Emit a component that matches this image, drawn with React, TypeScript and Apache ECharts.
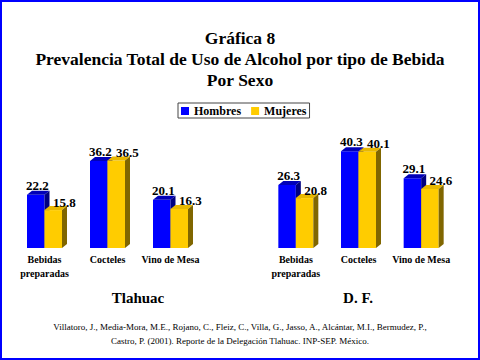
import React, { useEffect, useRef } from "react";
import * as echarts from "echarts";

const categories = ["Bebidas\npreparadas", "Cocteles", "Vino de Mesa"];
const tlahuacHombres = [22.2, 36.2, 20.1];
const tlahuacMujeres = [15.8, 36.5, 16.3];
const dfHombres = [26.3, 40.3, 29.1];
const dfMujeres = [20.8, 40.1, 24.6];
const groupNames = ["Tlahuac", "D. F."];
const seriesNames = ["Hombres", "Mujeres"];

const SERIF = '"Liberation Serif", "Times New Roman", serif';

const BAR_W = 17.5;
const DX = 5;
const DY = 4;

const palette = {
  Hombres: { front: "#0000FF", top: "#0000B8", side: "#000080" },
  Mujeres: { front: "#FFCC00", top: "#E8B800", side: "#806600" },
};

function makeRender(isLeft: boolean, colors: { front: string; top: string; side: string }) {
  return (params: any, api: any) => {
    const idx = api.value(0);
    const val = api.value(1);
    const topPt = api.coord([idx, val]);
    const basePt = api.coord([idx, 0]);
    const cx = topPt[0];
    const yTop = topPt[1];
    const yBase = basePt[1];
    const x0 = isLeft ? cx - BAR_W : cx;
    const x1 = x0 + BAR_W;
    const labelOffset = isLeft ? 1.5 : 11;
    return {
      type: "group",
      children: [
        {
          type: "rect",
          shape: { x: x0, y: yTop, width: BAR_W, height: yBase - yTop },
          style: { fill: colors.front },
        },
        {
          type: "polygon",
          shape: {
            points: [
              [x0, yTop],
              [x0 + DX, yTop - DY],
              [x1 + DX, yTop - DY],
              [x1, yTop],
            ],
          },
          style: { fill: colors.top },
        },
        {
          type: "polygon",
          shape: {
            points: [
              [x1, yTop],
              [x1 + DX, yTop - DY],
              [x1 + DX, yBase - DY],
              [x1, yBase],
            ],
          },
          style: { fill: colors.side },
        },
        {
          type: "text",
          z2: 100,
          style: {
            text: val.toFixed(1),
            x: (x0 + x1) / 2 + labelOffset,
            y: yTop - (isLeft ? 3 : 1.5),
            align: "center",
            verticalAlign: "bottom",
            fontFamily: SERIF,
            fontWeight: "bold",
            fontSize: 13,
            fill: "#000",
          },
        },
      ],
    };
  };
}

function barSeries(name: string, values: number[], gridIdx: number, isLeft: boolean) {
  const colors = (palette as any)[name];
  return {
    type: "custom",
    name,
    xAxisIndex: gridIdx,
    yAxisIndex: gridIdx,
    z: isLeft ? 2 : 3,
    itemStyle: { color: colors.front },
    renderItem: makeRender(isLeft, colors),
    data: values.map((v, i) => [i, v]),
    encode: { x: 0, y: 1 },
  };
}

export default function App() {
  const ref = useRef<HTMLDivElement>(null);
  useEffect(() => {
    document.body.style.margin = "0";
    if (!ref.current) return;
    const chart = echarts.init(ref.current, null, { renderer: "svg" });
    const xAxisBase = {
      type: "category",
      data: categories,
      axisLine: { show: false },
      axisTick: { show: false },
      splitLine: { show: false },
      axisLabel: {
        interval: 0,
        margin: 4,
        fontFamily: SERIF,
        fontWeight: "bold",
        fontSize: 10,
        lineHeight: 14,
        color: "#000",
      },
    };
    const yAxisBase = {
      type: "value",
      min: 0,
      max: 50,
      show: false,
      splitLine: { show: false },
    };
    chart.setOption({
      animation: false,
      backgroundColor: "#fff",
      title: {
        text: "Gráfica 8\nPrevalencia Total de Uso de Alcohol por tipo de Bebida\nPor Sexo",
        left: 240,
        top: 27,
        padding: 0,
        textAlign: "center",
        textStyle: {
          fontFamily: SERIF,
          fontWeight: "bold",
          fontSize: 17.5,
          lineHeight: 21,
          color: "#000",
        },
      },
      legend: {
        data: seriesNames.map((n) => ({
          name: n,
          icon: "rect",
          itemStyle: { color: (palette as any)[n].front },
        })),
        left: 178,
        top: 103,
        itemWidth: 8,
        itemHeight: 8,
        itemGap: 10,
        padding: [2, 3, 1, 3],
        borderColor: "#444",
        borderWidth: 1,
        textStyle: {
          fontFamily: SERIF,
          fontWeight: "bold",
          fontSize: 12,
          color: "#000",
        },
      },
      grid: [
        { left: 13, width: 189, top: 128, height: 120 },
        { left: 264.5, width: 188, top: 128, height: 120 },
      ],
      xAxis: [
        { ...xAxisBase, gridIndex: 0 },
        { ...xAxisBase, gridIndex: 1 },
      ],
      yAxis: [
        { ...yAxisBase, gridIndex: 0 },
        { ...yAxisBase, gridIndex: 1 },
      ],
      series: [
        barSeries("Hombres", tlahuacHombres, 0, true),
        barSeries("Mujeres", tlahuacMujeres, 0, false),
        barSeries("Hombres", dfHombres, 1, true),
        barSeries("Mujeres", dfMujeres, 1, false),
      ],
      graphic: [
        {
          type: "rect",
          shape: { x: 1, y: 1, width: 478, height: 358 },
          style: { stroke: "#0000FF", lineWidth: 2, fill: "none" },
          silent: true,
        },
        {
          type: "text",
          x: 138,
          y: 298,
          style: {
            text: groupNames[0],
            align: "center",
            verticalAlign: "middle",
            fontFamily: SERIF,
            fontWeight: "bold",
            fontSize: 15,
            fill: "#000",
          },
        },
        {
          type: "text",
          x: 358,
          y: 298,
          style: {
            text: groupNames[1],
            align: "center",
            verticalAlign: "middle",
            fontFamily: SERIF,
            fontWeight: "bold",
            fontSize: 15,
            fill: "#000",
          },
        },
        {
          type: "text",
          x: 240,
          y: 334,
          style: {
            text:
              "Villatoro, J., Media-Mora, M.E., Rojano, C., Fleiz, C., Villa, G., Jasso, A., Alcántar, M.I., Bermudez, P.,\nCastro, P. (2001). Reporte de la Delegación Tlahuac. INP-SEP. México.",
            align: "center",
            verticalAlign: "middle",
            fontFamily: SERIF,
            fontSize: 9,
            lineHeight: 14,
            fill: "#000",
          },
        },
      ],
    });
    return () => chart.dispose();
  }, []);
  return (
    <div
      ref={ref}
      style={{ position: "absolute", left: 0, top: 0, width: 480, height: 360 }}
    />
  );
}
